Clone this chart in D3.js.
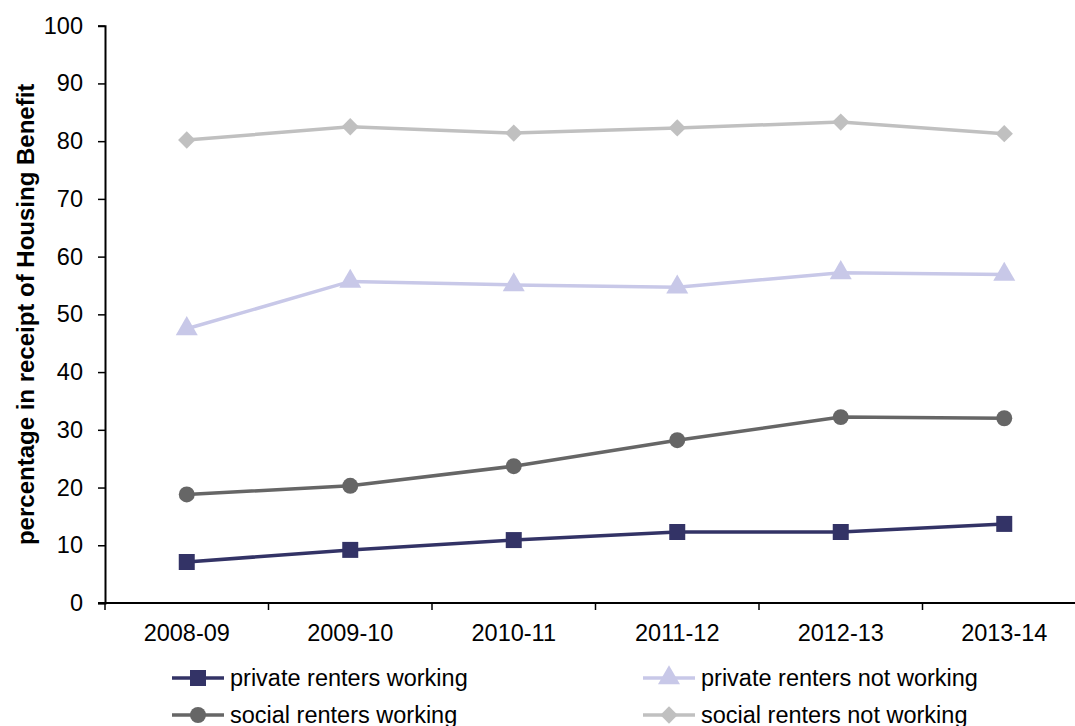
<!DOCTYPE html>
<html>
<head>
<meta charset="utf-8">
<script src="https://cdn.jsdelivr.net/npm/d3@7"></script>
<style>
  html, body { margin: 0; padding: 0; background: #fff; }
  svg { display: block; font-family: "Liberation Sans", Arial, sans-serif; }
</style>
</head>
<body>
<svg id="chart" width="1075" height="726"></svg>
<script>
const categories = ["2008-09", "2009-10", "2010-11", "2011-12", "2012-13", "2013-14"];
const privateWorking    = [7.1, 9.2, 10.9, 12.3, 12.3, 13.7];
const privateNotWorking = [47.5, 55.7, 55.1, 54.7, 57.2, 56.9];
const socialWorking     = [18.8, 20.3, 23.7, 28.2, 32.2, 32.0];
const socialNotWorking  = [80.2, 82.5, 81.4, 82.3, 83.3, 81.3];
const yTicks = [0, 10, 20, 30, 40, 50, 60, 70, 80, 90, 100];
const yTitle = "percentage in receipt of Housing Benefit";

const series = [
  { name: "private renters working", values: privateWorking, color: "#333366", symbol: d3.symbolSquare, size: 256, rot: 0 },
  { name: "private renters not working", values: privateNotWorking, color: "#c8c8e8", symbol: d3.symbolTriangle, size: 210, rot: 0 },
  { name: "social renters working", values: socialWorking, color: "#666666", symbol: d3.symbolCircle, size: 200, rot: 0 },
  { name: "social renters not working", values: socialNotWorking, color: "#c0c0c0", symbol: d3.symbolSquare, size: 150, rot: 45 }
];

const FS = 23.5;
const svg = d3.select("#chart");
const mLeft = 105, mRight = 1086, mTop = 25.7, mBottom = 603;

const x = d3.scaleBand().domain(categories).range([mLeft, mRight]).padding(0);
const y = d3.scaleLinear().domain([0, 100]).range([mBottom, mTop]);

// Y axis
const yAxis = svg.append("g").attr("transform", `translate(${mLeft},0)`)
  .call(d3.axisLeft(y).tickValues(yTicks).tickSize(7).tickPadding(15));
yAxis.select(".domain").attr("stroke", "#000").attr("stroke-width", 2);
yAxis.selectAll(".tick line").attr("stroke", "#000").attr("stroke-width", 1.5);
yAxis.selectAll(".tick text").attr("font-size", FS).attr("fill", "#000")
  .attr("font-family", "Liberation Sans, Arial, sans-serif");

// X axis
const xAxis = svg.append("g").attr("transform", `translate(0,${mBottom})`)
  .call(d3.axisBottom(x).tickSize(0).tickPadding(21));
xAxis.select(".domain").remove();
xAxis.selectAll(".tick text").attr("font-size", FS).attr("fill", "#000")
  .attr("font-family", "Liberation Sans, Arial, sans-serif");
svg.append("line").attr("x1", mLeft - 7).attr("x2", mRight).attr("y1", mBottom).attr("y2", mBottom)
  .attr("stroke", "#000").attr("stroke-width", 2);
const boundaries = d3.range(categories.length + 1).map(i => mLeft + i * x.step());
svg.append("g").selectAll("line").data(boundaries).join("line")
  .attr("x1", d => d).attr("x2", d => d).attr("y1", mBottom).attr("y2", mBottom + 7)
  .attr("stroke", "#000").attr("stroke-width", 1.5);

// Y title
svg.append("text")
  .attr("transform", `translate(34,${(mTop + mBottom) / 2}) rotate(-90)`)
  .attr("text-anchor", "middle")
  .attr("font-size", 24).attr("font-weight", "bold").attr("fill", "#000")
  .text(yTitle);

// Lines and markers
const cx = c => x(c) + x.bandwidth() / 2;
const line = d3.line().x(d => cx(d.c)).y(d => y(d.v));
series.forEach(s => {
  const pts = categories.map((c, i) => ({ c, v: s.values[i] }));
  svg.append("path").datum(pts).attr("d", line)
    .attr("fill", "none").attr("stroke", s.color).attr("stroke-width", 3.5);
  svg.append("g").selectAll("path").data(pts).join("path")
    .attr("transform", d => `translate(${cx(d.c)},${y(d.v)}) rotate(${s.rot})`)
    .attr("d", d3.symbol().type(s.symbol).size(s.size)())
    .attr("fill", s.color);
});

// Legend
const legendPos = [
  { lx: 172, ty: 678 }, { lx: 643, ty: 678 },
  { lx: 172, ty: 715 }, { lx: 643, ty: 715 }
];
series.forEach((s, i) => {
  const p = legendPos[i];
  const g = svg.append("g");
  g.append("line").attr("x1", p.lx).attr("x2", p.lx + 52).attr("y1", p.ty).attr("y2", p.ty)
    .attr("stroke", s.color).attr("stroke-width", 3.5);
  g.append("path").attr("transform", `translate(${p.lx + 26},${p.ty}) rotate(${s.rot})`)
    .attr("d", d3.symbol().type(s.symbol).size(s.size)()).attr("fill", s.color);
  g.append("text").attr("x", p.lx + 58).attr("y", p.ty).attr("dy", "0.35em")
    .attr("font-size", FS).attr("fill", "#000").text(s.name);
});
</script>
</body>
</html>
